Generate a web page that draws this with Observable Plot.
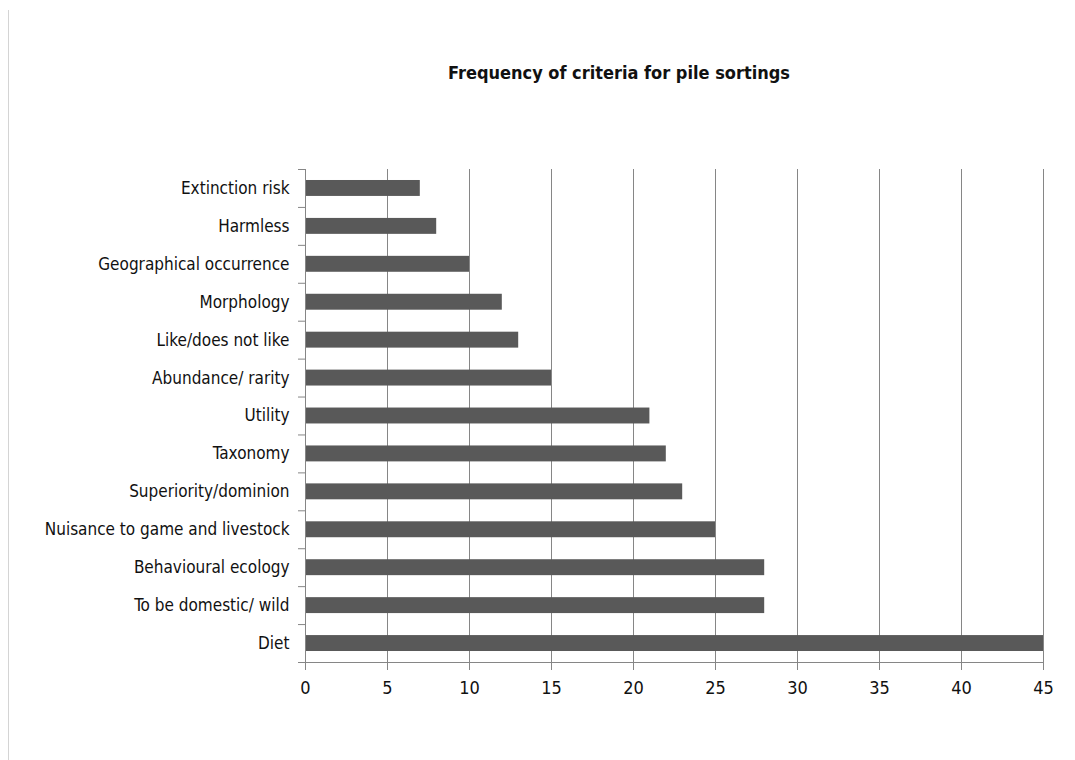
<!DOCTYPE html>
<html>
<head>
<meta charset="utf-8">
<script src="https://cdn.jsdelivr.net/npm/d3@7"></script>
<script src="https://cdn.jsdelivr.net/npm/@observablehq/plot@0.6"></script>
<style>
  html, body { margin: 0; padding: 0; background: #fff; }
  #wrap { position: relative; width: 1075px; height: 760px; overflow: hidden; }
  #border { position: absolute; left: 8px; top: 10px; width: 0; height: 760px; border-left: 1px solid #d4d4d4; }
  #title { position: absolute; left: 0; width: 1238px; top: 62px; text-align: center;
    font-family: "DejaVu Sans Condensed", "DejaVu Sans", sans-serif; font-stretch: condensed; font-weight: bold; font-size: 18px; color: #111; }
  #chart { position: absolute; left: 0; top: 0; }
  #chart svg text { font-stretch: condensed; }
</style>
</head>
<body>
<div id="wrap">
  <div id="border"></div>
  <div id="chart"></div>
  <div id="title">Frequency of criteria for pile sortings</div>
</div>
<script>
const categories = [
  "Extinction risk",
  "Harmless",
  "Geographical occurrence",
  "Morphology",
  "Like/does not like",
  "Abundance/ rarity",
  "Utility",
  "Taxonomy",
  "Superiority/dominion",
  "Nuisance to game and livestock",
  "Behavioural ecology",
  "To be domestic/ wild",
  "Diet"
];
const counts = [7, 8, 10, 12, 13, 15, 21, 22, 23, 25, 28, 28, 45];
const xTicks = [0, 5, 10, 15, 20, 25, 30, 35, 40, 45];

const data = categories.map((c, i) => ({criterion: c, count: counts[i]}));

const W = 1075, H = 760, mT = 169, mB = 98, mL = 305, mR = 32;
const step = (H - mT - mB) / categories.length;
const font = '"DejaVu Sans Condensed", "DejaVu Sans", sans-serif';

const chart = Plot.plot({
  width: W,
  height: H,
  marginTop: mT,
  marginBottom: mB,
  marginLeft: mL,
  marginRight: mR,
  style: {fontFamily: font, fontSize: "17px", color: "#111", background: "transparent"},
  x: {domain: [0, 45], ticks: xTicks, label: null},
  y: {domain: categories, paddingInner: 0.58, paddingOuter: 0.29, round: false, label: null},
  marks: [
    Plot.gridX(xTicks, {stroke: "#868686", strokeOpacity: 1, strokeWidth: 1}),
    Plot.barX(data, {x: "count", y: "criterion", fill: "#595959"}),
    Plot.frame({anchor: "left", stroke: "#868686", strokeWidth: 1}),
    Plot.frame({anchor: "bottom", stroke: "#868686", strokeWidth: 1, insetLeft: -7}),
    Plot.axisX(xTicks, {tickSize: 8, stroke: "#868686", tickPadding: 11, fontSize: 18, fill: "#111", label: null}),
    Plot.axisY({tickSize: 0, tickPadding: 16, fontSize: 17, fill: "#111", label: null}),
    Plot.axisY({tickSize: 7, tickFormat: null, dy: -step / 2, stroke: "#868686", label: null})
  ]
});
document.getElementById("chart").appendChild(chart);
</script>
</body>
</html>
